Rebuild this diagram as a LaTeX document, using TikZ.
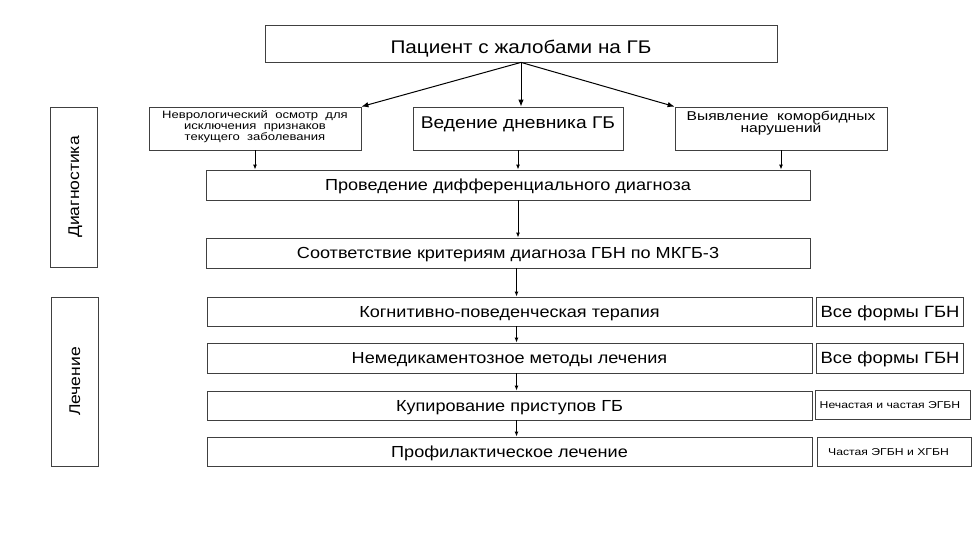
\documentclass[tikz,border=0pt]{standalone}
\usepackage{fontspec}
\setmainfont{Liberation Sans}
\newfontfamily\wa[FakeStretch=1.13]{Liberation Sans}
\newfontfamily\wb[FakeStretch=1.22]{Liberation Sans}
\usetikzlibrary{arrows.meta}
\begin{document}
\begin{tikzpicture}[x=1pt,y=-1pt,
  box/.style={draw=black!75,line width=0.8pt,inner sep=0pt,align=center,text=black},
  big/.style={font=\wa\fontsize{16}{19}\selectfont,text height=11.46pt,text depth=0pt},
  arr/.style={line width=1pt,-{Latex[length=7pt,width=5.5pt]}},
  sarr/.style={line width=1pt,-{Latex[length=5pt,width=4pt]}}]
\useasboundingbox (0,0) rectangle (973,548);
\node[box,minimum width=512,minimum height=37,font=\wa\fontsize{18.3}{22}\selectfont,text height=19.1pt,text depth=0pt] (top) at (521,43.5) {Пациент с жалобами на ГБ};
\node[box,minimum width=212,minimum height=43] (neuro) at (255,128.5) {};
\node[align=center,inner sep=0pt,font=\wb\fontsize{10.7}{11}\selectfont] (neurot) at (255,127) {Неврологический\ \ осмотр\ \ для\\исключения\ \ признаков\\текущего\ \ заболевания};
\node[box,minimum width=210,minimum height=43,font=\wa\fontsize{17}{20}\selectfont,text height=12.2pt,text depth=13pt] (diary) at (518,128.5) {Ведение дневника ГБ};
\node[box,minimum width=212,minimum height=43] (comorb) at (781,128.5) {};
\node[align=center,inner sep=0pt,font=\wb\fontsize{12.8}{12.6}\selectfont] (comorbt) at (781,123) {Выявление\ \ коморбидных\\нарушений};
\node[box,big,minimum width=604,minimum height=30] (diff) at (508,185) {Проведение дифференциального диагноза};
\node[box,big,minimum width=604,minimum height=30] (crit) at (508,253) {Соответствие критериям диагноза ГБН по МКГБ-3};
\node[box,big,minimum width=605,minimum height=29] (cbt) at (509.5,311.5) {Когнитивно-поведенческая терапия};
\node[box,big,minimum width=605,minimum height=30] (nondrug) at (509.5,358) {Немедикаментозное методы лечения};
\node[box,big,minimum width=605,minimum height=29] (acute) at (509.5,405.5) {Купирование приступов ГБ};
\node[box,big,minimum width=605,minimum height=29] (prev) at (509.5,451.5) {Профилактическое лечение};
\node[box,big,minimum width=147,minimum height=29,font=\wa\fontsize{16.3}{19}\selectfont] (f1) at (890,311.5) {Все формы ГБН};
\node[box,big,minimum width=147,minimum height=30,font=\wa\fontsize{16.3}{19}\selectfont] (f2) at (890,358) {Все формы ГБН};
\node[box,minimum width=155,minimum height=29,font=\wb\fontsize{10}{11}\selectfont,text height=7.2pt,text depth=0pt] (f3) at (893,404.5) {Нечастая и частая ЭГБН\hspace*{6pt}};
\node[box,minimum width=154,minimum height=29,font=\wb\fontsize{10}{11}\selectfont,text height=7.2pt,text depth=0pt] (f4) at (894,451.5) {Частая ЭГБН и ХГБН\hspace*{11pt}};
\node[box,minimum width=47,minimum height=160] (diag) at (73.5,187) {};
\node[rotate=90,inner sep=0pt,font=\wa\fontsize{15.5}{18}\selectfont,text height=11.1pt,text depth=0pt] (diagt) at (diag.center) {Диагностика};
\node[box,minimum width=47,minimum height=169] (treat) at (74.5,381.5) {};
\node[rotate=90,inner sep=0pt,font=\wa\fontsize{15.5}{18}\selectfont,text height=11.1pt,text depth=0pt] (treatt) at (treat.center) {Лечение};
\draw[arr] (top.south) -- (neuro.north east);
\draw[arr] (top.south) -- (top.south |- diary.north);
\draw[arr] (top.south) -- (comorb.north west);
\draw[sarr] (neuro.south) -- (neuro.south |- diff.north);
\draw[sarr] (diary.south) -- (diary.south |- diff.north);
\draw[sarr] (comorb.south) -- (comorb.south |- diff.north);
\draw[sarr] (diff.south -| diary.south) -- (crit.north -| diary.south);
\coordinate (cx) at (516.5,0);
\draw[sarr] (crit.south -| cx) -- (cbt.north -| cx);
\draw[sarr] (cbt.south -| cx) -- (nondrug.north -| cx);
\draw[sarr] (nondrug.south -| cx) -- (acute.north -| cx);
\draw[sarr] (acute.south -| cx) -- (prev.north -| cx);
\end{tikzpicture}
\end{document}
